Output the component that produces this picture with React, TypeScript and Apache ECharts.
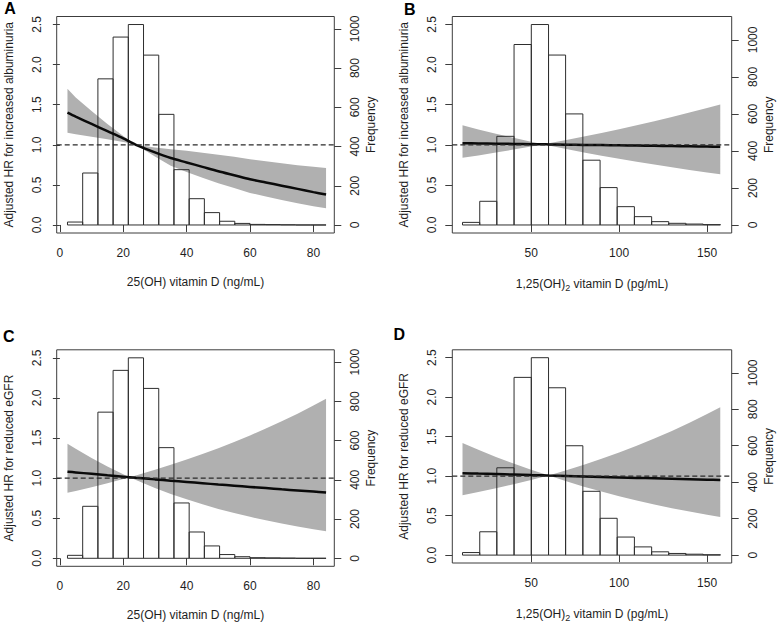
import React, { useEffect, useRef } from "react";
import * as echarts from "echarts";

// ---------- data ----------
// histogram bin edges and counts
const bins25 = [2.4, 7.2, 12.0, 16.8, 21.6, 26.4, 31.2, 36.0, 40.8, 45.6, 50.4, 55.2, 60.0, 64.8, 69.6, 74.4, 79.2, 84.0];
const freq25 = [15, 265, 745, 958, 1022, 866, 564, 282, 134, 63, 19, 8, 3, 2, 1, 0, 0];
const bins125 = [11, 20.8, 30.5, 40.3, 50.1, 59.9, 69.6, 79.4, 89.2, 98.9, 108.7, 118.5, 128.2, 138.0, 147.8, 157.6];
const freq125 = [14, 128, 479, 975, 1083, 918, 600, 350, 202, 99, 45, 18, 9, 5, 2];

// spline x positions
const x25 = [2.4, 5, 10, 15, 20, 22, 24, 30, 35, 40, 45, 50, 55, 60, 65, 70, 75, 80, 84];
const x125 = [11, 20, 30, 40, 50, 57, 60, 70, 80, 90, 100, 110, 120, 130, 140, 150, 157.5];

// A: 25(OH)D vs increased albuminuria
const hrA = [1.40, 1.35, 1.26, 1.17, 1.08, 1.04, 1.00, 0.905, 0.835, 0.78, 0.725, 0.67, 0.62, 0.57, 0.53, 0.49, 0.45, 0.41, 0.38];
const upA = [1.70, 1.59, 1.42, 1.26, 1.11, 1.055, 1.00, 0.965, 0.945, 0.925, 0.90, 0.875, 0.85, 0.82, 0.795, 0.77, 0.745, 0.725, 0.71];
const loA = [1.15, 1.13, 1.10, 1.07, 1.035, 1.02, 1.00, 0.855, 0.74, 0.66, 0.59, 0.52, 0.46, 0.40, 0.355, 0.31, 0.27, 0.235, 0.21];

// B: 1,25(OH)2D vs increased albuminuria
const hrB = [1.020, 1.017, 1.014, 1.011, 1.008, 1.006, 1.005, 1.002, 0.999, 0.996, 0.993, 0.990, 0.987, 0.984, 0.981, 0.978, 0.975];
const upB = [1.243, 1.192, 1.139, 1.088, 1.039, 1.006, 1.018, 1.060, 1.103, 1.148, 1.195, 1.243, 1.294, 1.347, 1.402, 1.459, 1.502];
const loB = [0.837, 0.868, 0.903, 0.940, 0.978, 1.006, 0.992, 0.948, 0.905, 0.864, 0.825, 0.788, 0.753, 0.719, 0.687, 0.656, 0.633];

// C: 25(OH)D vs reduced eGFR
const hrC = [1.080, 1.071, 1.053, 1.035, 1.018, 1.011, 1.004, 0.984, 0.968, 0.952, 0.936, 0.920, 0.905, 0.890, 0.875, 0.860, 0.846, 0.832, 0.820];
const upC = [1.429, 1.365, 1.250, 1.144, 1.047, 1.011, 1.033, 1.103, 1.165, 1.231, 1.300, 1.373, 1.450, 1.532, 1.618, 1.708, 1.804, 1.906, 1.991];
const loC = [0.816, 0.840, 0.886, 0.937, 0.989, 1.011, 0.976, 0.878, 0.803, 0.736, 0.673, 0.616, 0.564, 0.517, 0.473, 0.433, 0.396, 0.363, 0.338];

// D: 1,25(OH)2D vs reduced eGFR
const hrD = [1.038, 1.032, 1.026, 1.020, 1.014, 1.010, 1.008, 1.002, 0.996, 0.990, 0.984, 0.978, 0.973, 0.967, 0.961, 0.955, 0.951];
const upD = [1.419, 1.333, 1.243, 1.159, 1.081, 1.029, 1.008, 1.074, 1.145, 1.220, 1.300, 1.385, 1.476, 1.573, 1.676, 1.786, 1.873];
const loD = [0.759, 0.800, 0.848, 0.898, 0.951, 0.991, 1.008, 0.935, 0.867, 0.804, 0.745, 0.691, 0.641, 0.594, 0.551, 0.511, 0.483];

// axis ticks
const ticks25 = [0, 20, 40, 60, 80];
const ticks125 = [50, 100, 150];
const hrTicks = [0, 0.5, 1.0, 1.5, 2.0, 2.5];
const freqTicks = [0, 200, 400, 600, 800, 1000];
const refHR = 1;

const yTitleAlb = "Adjusted HR for increased albuminuria";
const yTitleGfr = "Adjusted HR for reduced eGFR";
const xTitle25 = "25(OH) vitamin D (ng/mL)";
const xTitle125 = "1,25(OH){sub|2} vitamin D (pg/mL)";

// ---------- styles ----------
const FONT = "'Liberation Sans', Arial, Helvetica, sans-serif";
const TXT = "#1e1e1e";
const AXC = "#3c3c3c";
const BAND = "#b0b0b0";

type Panel = {
  letter: string; lx: number; ly: number;
  left: number; top: number; width: number; height: number;
  xMin: number; xMax: number; xTicks: number[];
  bins: number[]; freq: number[];
  xs: number[]; hr: number[]; up: number[]; lo: number[];
  yTitle: string; xTitle: string;
};

const panels: Panel[] = [
  { letter: "A", lx: 10, ly: 0, left: 56.7, top: 16.5, width: 277.6, height: 216.5, xMin: -1.0, xMax: 86.6, xTicks: ticks25,
    bins: bins25, freq: freq25, xs: x25, hr: hrA, up: upA, lo: loA, yTitle: yTitleAlb, xTitle: xTitle25 },
  { letter: "B", lx: 409.7, ly: 1, left: 452.3, top: 16.5, width: 279.4, height: 216.5, xMin: 5.2, xMax: 164, xTicks: ticks125,
    bins: bins125, freq: freq125, xs: x125, hr: hrB, up: upB, lo: loB, yTitle: yTitleAlb, xTitle: xTitle125 },
  { letter: "C", lx: 8.8, ly: 328, left: 56.7, top: 349.8, width: 277.6, height: 216.5, xMin: -1.0, xMax: 86.6, xTicks: ticks25,
    bins: bins25, freq: freq25, xs: x25, hr: hrC, up: upC, lo: loC, yTitle: yTitleGfr, xTitle: xTitle25 },
  { letter: "D", lx: 399.3, ly: 326, left: 452.3, top: 349.8, width: 279.4, height: 216.5, xMin: 5.2, xMax: 164, xTicks: ticks125,
    bins: bins125, freq: freq125, xs: x125, hr: hrD, up: upD, lo: loD, yTitle: yTitleGfr, xTitle: xTitle125 },
];

const Y_MIN = -0.1;
const Y_MAX = 2.6;

function buildOption() {
  const grid: any[] = [];
  const xAxis: any[] = [];
  const yAxis: any[] = [];
  const series: any[] = [];
  const graphic: any[] = [];
  const labelStyle = { color: TXT, fontSize: 12, fontFamily: FONT };

  panels.forEach((p, i) => {
    const k = Math.max(...p.freq) / 2.5; // histogram scaled so its tallest bar reaches 2.5
    grid.push({ left: p.left, top: p.top, width: p.width, height: p.height, show: true, borderColor: AXC, borderWidth: 1, backgroundColor: "transparent" });
    xAxis.push({
      type: "value", gridIndex: i, min: p.xMin, max: p.xMax, position: "bottom",
      splitLine: { show: false }, axisLine: { show: false },
      axisTick: { show: true, length: 7, lineStyle: { color: AXC, width: 1 }, customValues: p.xTicks },
      axisLabel: { ...labelStyle, margin: 14, customValues: p.xTicks, formatter: (v: number) => String(v) },
      name: p.xTitle, nameLocation: "middle", nameGap: 43,
      nameTextStyle: { ...labelStyle, rich: { sub: { fontSize: 9, color: TXT, fontFamily: FONT, padding: [7, 0, 0, 0] } } },
    });
    yAxis.push({
      type: "value", gridIndex: i, min: Y_MIN, max: Y_MAX, position: "left",
      splitLine: { show: false }, axisLine: { show: false },
      axisTick: { show: true, length: 7, lineStyle: { color: AXC, width: 1 }, customValues: hrTicks },
      axisLabel: { ...labelStyle, rotate: 90, margin: 14, customValues: hrTicks, formatter: (v: number) => v.toFixed(1) },
      name: p.yTitle, nameLocation: "middle", nameGap: 42, nameRotate: 90, nameTextStyle: labelStyle,
    });
    yAxis.push({
      type: "value", gridIndex: i, min: Y_MIN * k, max: Y_MAX * k, position: "right",
      splitLine: { show: false }, axisLine: { show: false },
      axisTick: { show: true, length: 7, lineStyle: { color: AXC, width: 1 }, customValues: freqTicks },
      axisLabel: { ...labelStyle, rotate: 90, margin: 15, customValues: freqTicks, formatter: (v: number) => String(v) },
      name: "Frequency", nameLocation: "middle", nameGap: 31, nameRotate: 90, nameTextStyle: labelStyle,
    });

    // confidence band
    series.push({
      type: "custom", xAxisIndex: i, yAxisIndex: 2 * i, z: 1, silent: true,
      data: [[p.xs[0], p.hr[0]]],
      renderItem: (_params: any, api: any) => {
        const pts: number[][] = [];
        for (let j = 0; j < p.xs.length; j++) pts.push(api.coord([p.xs[j], p.up[j]]));
        for (let j = p.xs.length - 1; j >= 0; j--) pts.push(api.coord([p.xs[j], p.lo[j]]));
        return { type: "polygon", shape: { points: pts }, style: { fill: BAND, stroke: "none" } };
      },
    });
    // histogram (outlined bars)
    series.push({
      type: "custom", xAxisIndex: i, yAxisIndex: 2 * i + 1, z: 2, silent: true,
      dimensions: ["x0", "x1", "n"],
      encode: { x: [0, 1], y: 2 },
      data: p.freq.map((n, j) => [p.bins[j], p.bins[j + 1], n]),
      renderItem: (_params: any, api: any) => {
        const a = api.coord([api.value(0), 0]);
        const b = api.coord([api.value(1), api.value(2)]);
        return {
          type: "rect",
          shape: { x: a[0], y: b[1], width: b[0] - a[0], height: a[1] - b[1] },
          style: { fill: "none", stroke: "#2e2e2e", lineWidth: 1 },
        };
      },
    });
    // HR curve
    series.push({
      type: "line", xAxisIndex: i, yAxisIndex: 2 * i, z: 3, silent: true,
      data: p.xs.map((x, j) => [x, p.hr[j]]),
      showSymbol: false, smooth: 0.3,
      lineStyle: { color: "#0a0a0a", width: 2.5 },
    });
    // reference line at HR = 1
    series.push({
      type: "line", xAxisIndex: i, yAxisIndex: 2 * i, z: 4, silent: true,
      data: [[p.xMin, refHR], [p.xMax, refHR]],
      showSymbol: false,
      lineStyle: { color: "#2a2a2a", width: 1.2, type: [5, 3] },
    });

    graphic.push({
      type: "text", x: p.lx, y: p.ly,
      style: { text: p.letter, font: `bold 16px ${FONT}`, fill: "#000", align: "center", verticalAlign: "top" },
    });
  });

  return { animation: false, backgroundColor: "#fff", grid, xAxis, yAxis, series, graphic };
}

export default function App() {
  const ref = useRef<HTMLDivElement>(null);
  useEffect(() => {
    if (!ref.current) return;
    const chart = echarts.init(ref.current, null, { renderer: "svg" });
    chart.setOption(buildOption() as any);
    return () => chart.dispose();
  }, []);
  return <div ref={ref} style={{ position: "fixed", left: 0, top: 0, width: 777, height: 623 }} />;
}
